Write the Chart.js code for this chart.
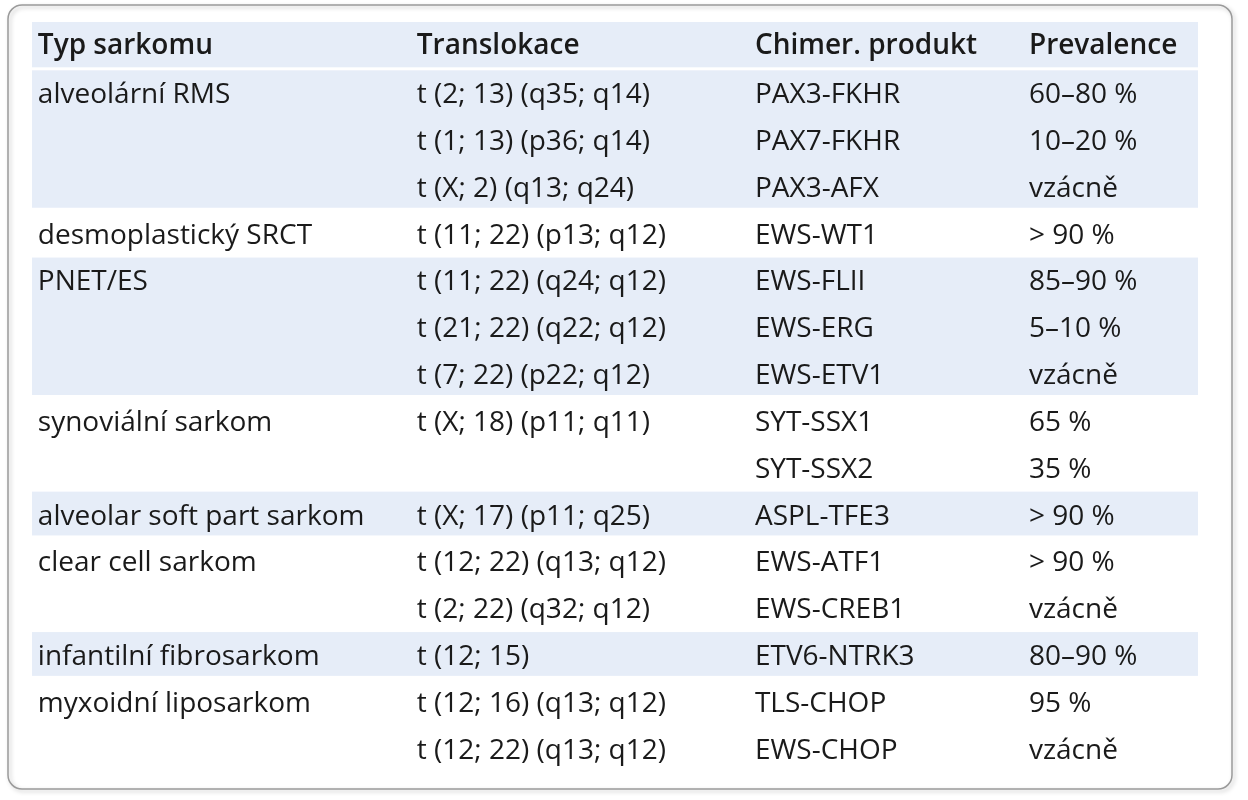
<!DOCTYPE html>
<html><head><meta charset="utf-8">
<script src="https://cdn.jsdelivr.net/npm/chart.js@4"></script>
<style>html,body{margin:0;padding:0;background:#fff}#w{width:1248px;height:800px}</style>
</head><body><div id="w"><canvas id="c"></canvas></div>
<script>
const headers = ["Typ sarkomu","Translokace","Chimer. produkt","Prevalence"];
const colType = ["alveolární RMS","","","desmoplastický SRCT","PNET/ES","","","synoviální sarkom","","alveolar soft part sarkom","clear cell sarkom","","infantilní fibrosarkom","myxoidní liposarkom",""];
const colTrans = ["t (2; 13) (q35; q14)","t (1; 13) (p36; q14)","t (X; 2) (q13; q24)","t (11; 22) (p13; q12)","t (11; 22) (q24; q12)","t (21; 22) (q22; q12)","t (7; 22) (p22; q12)","t (X; 18) (p11; q11)","","t (X; 17) (p11; q25)","t (12; 22) (q13; q12)","t (2; 22) (q32; q12)","t (12; 15)","t (12; 16) (q13; q12)","t (12; 22) (q13; q12)"];
const colProd = ["PAX3-FKHR","PAX7-FKHR","PAX3-AFX","EWS-WT1","EWS-FLII","EWS-ERG","EWS-ETV1","SYT-SSX1","SYT-SSX2","ASPL-TFE3","EWS-ATF1","EWS-CREB1","ETV6-NTRK3","TLS-CHOP","EWS-CHOP"];
const colPrev = ["60–80 %","10–20 %","vzácně","> 90 %","85–90 %","5–10 %","vzácně","65 %","35 %","> 90 %","> 90 %","vzácně","80–90 %","95 %","vzácně"];
const groupStart = [0,3,4,7,9,10,12,13];
const shadedGroups = [0,2,4,6];
const labels = ["h"].concat(colType.map((_,i)=>"r"+i));
const shaded = labels.map((_,i)=>{
  if(i===0) return [0,100];
  const r=i-1; let g=0; for(let k=0;k<groupStart.length;k++) if(r>=groupStart[k]) g=k;
  return shadedGroups.includes(g)?[0,100]:null;
});
const colX = [0.5, 33.0, 62.0, 85.5];
const plug = {
  id:'tbl',
  beforeDraw(ch){
    const c=ch.ctx; c.save();
    c.shadowColor='rgba(0,0,0,0.25)'; c.shadowBlur=4; c.shadowOffsetX=2; c.shadowOffsetY=2;
    c.strokeStyle='#9a9a9a'; c.lineWidth=1.5;
    c.beginPath(); c.roundRect(8,5,1224,784,14); c.stroke(); c.restore();
  },
  afterDatasetsDraw(ch){
    const c=ch.ctx, xs=ch.scales.x, ys=ch.scales.y;
    c.save();
    const step = ys.getPixelForValue(1)-ys.getPixelForValue(0);
    c.fillStyle='#fff';
    const bounds=[1].concat(groupStart.slice(1).map(g=>g+1));
    bounds.forEach(b=>{const y=ys.getPixelForValue(b)-step/2; c.fillRect(xs.left,y-1.5,xs.right-xs.left,3);});
    c.fillStyle='#1a1a1a'; c.textBaseline='middle';
    c.font='600 28px "Open Sans", sans-serif';
    headers.forEach((h,j)=>c.fillText(h,xs.getPixelForValue(colX[j]),ys.getPixelForValue(0)+1));
    c.font='28px "Open Sans", sans-serif';
    [colType,colTrans,colProd,colPrev].forEach((col,j)=>col.forEach((t,i)=>{
      if(t) c.fillText(t,xs.getPixelForValue(colX[j]),ys.getPixelForValue(i+1)+3);
    }));
    c.restore();
  }
};
new Chart(document.getElementById('c'),{
  type:'bar',
  data:{labels,datasets:[{data:shaded,backgroundColor:'#e6edf8',borderWidth:0,barPercentage:1,categoryPercentage:1}]},
  options:{indexAxis:'y',responsive:true,maintainAspectRatio:false,animation:false,
    layout:{padding:{left:32,right:50,top:22,bottom:29}},
    plugins:{legend:{display:false},tooltip:{enabled:false}},
    scales:{x:{type:'linear',min:0,max:100,display:false},y:{display:false}}},
  plugins:[plug]
});
</script></body></html>
